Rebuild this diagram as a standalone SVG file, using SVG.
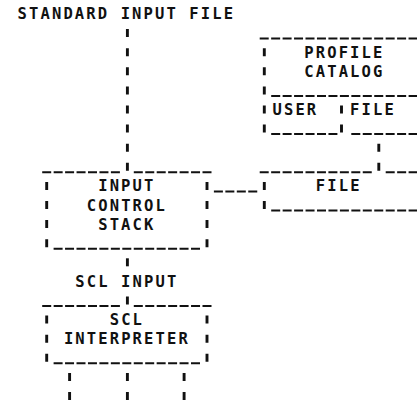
<svg xmlns="http://www.w3.org/2000/svg" width="417" height="400" viewBox="0 0 417 400">
<style>
.t{font-family:"DejaVu Sans Mono","Liberation Mono",monospace;font-size:15.5px;font-weight:bold;fill:#111;letter-spacing:2.12px}
.u{stroke:#111;stroke-width:2;stroke-dasharray:9 2.45;fill:none}
.v{stroke:#111;stroke-width:2.9;stroke-dasharray:8 11.1;fill:none}
</style>
<rect width="417" height="400" fill="#fff"/>
<g id="connectors">
  <line class="v" x1="127.4" y1="29.1" x2="127.4" y2="170.8"/>
  <line class="v" x1="378.8" y1="143.7" x2="378.8" y2="170.8"/>
  <line class="u" x1="213.9" y1="191.4" x2="257.3" y2="191.4"/>
  <line class="v" x1="127.4" y1="258.3" x2="127.4" y2="266.3"/>
  <text class="t" x="75.3" y="287">SCL INPUT</text>
  <line class="v" x1="127.4" y1="296.5" x2="127.4" y2="304.5"/>
  <line class="v" x1="69.6" y1="372.9" x2="69.6" y2="400"/>
  <line class="v" x1="127.4" y1="372.9" x2="127.4" y2="400"/>
  <line class="v" x1="184.1" y1="372.9" x2="184.1" y2="400"/>
</g>
<g id="standard-input-file">
  <text class="t" x="17.6" y="19.2">STANDARD INPUT FILE</text>
</g>
<g id="profile-catalog">
  <line class="u" x1="259.7" y1="38.6" x2="417" y2="38.6"/>
  <line class="v" x1="264.3" y1="48.2" x2="264.3" y2="132.6"/>
  <text class="t" x="304.3" y="57.8">PROFILE</text>
  <text class="t" x="304.3" y="76.9">CATALOG</text>
  <line class="u" x1="271.2" y1="95.9" x2="417" y2="95.9"/>
  <text class="t" x="272.5" y="115">USER</text>
  <line class="v" x1="341.5" y1="105.5" x2="341.5" y2="132.6"/>
  <text class="t" x="350.1" y="115">FILE</text>
  <line class="u" x1="271.2" y1="134.1" x2="337.4" y2="134.1"/>
  <line class="u" x1="351.3" y1="134.1" x2="417" y2="134.1"/>
</g>
<g id="file">
  <line class="u" x1="259.7" y1="172.3" x2="371.8" y2="172.3"/>
  <line class="u" x1="385.7" y1="172.3" x2="417" y2="172.3"/>
  <line class="v" x1="264.3" y1="181.9" x2="264.3" y2="209"/>
  <text class="t" x="315.8" y="191.4">FILE</text>
  <line class="u" x1="271.2" y1="210.5" x2="417" y2="210.5"/>
</g>
<g id="input-control-stack">
  <line class="u" x1="42.2" y1="172.3" x2="119.9" y2="172.3"/>
  <line class="u" x1="133.8" y1="172.3" x2="211.5" y2="172.3"/>
  <line class="v" x1="46.7" y1="181.9" x2="46.7" y2="247.2"/>
  <line class="v" x1="207" y1="181.9" x2="207" y2="247.2"/>
  <text class="t" x="98.2" y="191.4">INPUT</text>
  <text class="t" x="86.8" y="210.5">CONTROL</text>
  <text class="t" x="98.2" y="229.6">STACK</text>
  <line class="u" x1="53.6" y1="248.7" x2="200" y2="248.7"/>
</g>
<g id="scl-interpreter">
  <line class="u" x1="42.2" y1="306" x2="119.9" y2="306"/>
  <line class="u" x1="133.8" y1="306" x2="211.5" y2="306"/>
  <line class="v" x1="46.7" y1="315.6" x2="46.7" y2="361.8"/>
  <line class="v" x1="207" y1="315.6" x2="207" y2="361.8"/>
  <text class="t" x="109.7" y="325.1">SCL</text>
  <text class="t" x="63.9" y="344.2">INTERPRETER</text>
  <line class="u" x1="53.6" y1="363.3" x2="200" y2="363.3"/>
</g>
</svg>
